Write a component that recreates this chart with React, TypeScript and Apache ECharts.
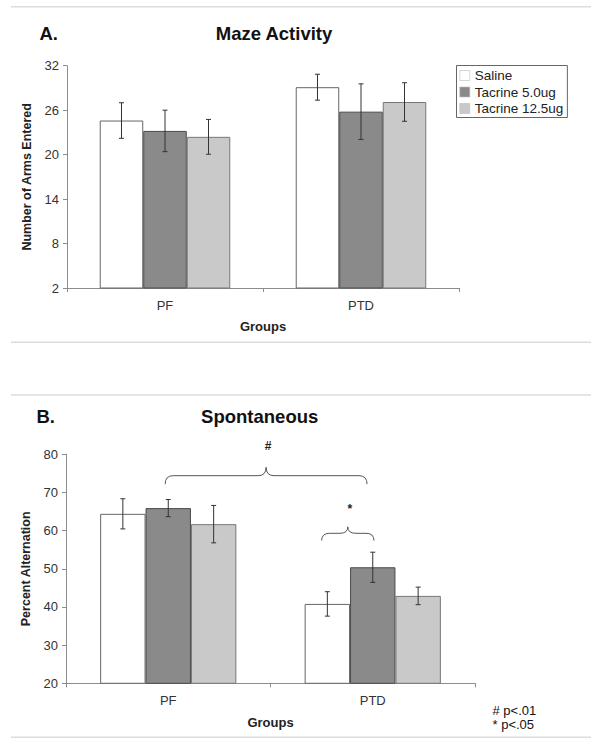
import React, { useEffect, useRef } from "react";
import * as echarts from "echarts";

// ---------- data ----------
const categories = ["PF", "PTD"];
const seriesNames = ["Saline", "Tacrine 5.0ug", "Tacrine 12.5ug"];

// A. Maze Activity (number of arms entered)
const mazeSaline = [24.6, 29.1];
const mazeSalineErr = [2.4, 1.75];
const mazeT5 = [23.2, 25.8];
const mazeT5Err = [2.8, 3.75];
const mazeT12 = [22.4, 27.1];
const mazeT12Err = [2.35, 2.6];
const mazeTicks = [2, 8, 14, 20, 26, 32];

// B. Spontaneous (percent alternation)
const altSaline = [64.4, 40.8];
const altSalineErr = [3.95, 3.2];
const altT5 = [65.9, 50.4];
const altT5Err = [2.25, 3.95];
const altT12 = [61.7, 42.9];
const altT12Err = [4.9, 2.3];

// significance braces on chart B: [category, offset within band]
const braceFrom = [[0, -0.015], [1, -0.25]];
const braceTo = [[1, -0.028], [1, 0.006]];
const braceEndY = [72.2, 57.4];
const braceLineY = [74.4, 59.3];
const bracePeakY = [76.6, 61.0];
const braceMark = ["#", "*"];
const braceMarkY = [82.3, 65.6];

const footnotes = ["# p<.01", "* p<.05"];

// ---------- styles ----------
const FONT = '"Liberation Sans", Arial, Helvetica, sans-serif';
const BAR_FRAC = 0.222;
const fills = ["#ffffff", "#8a8a8a", "#c9c9c9"];
const borders = ["#666666", "#4a4a4a", "#777777"];
const AXIS_COLOR = "#8c8c8c";
const TEXT_COLOR = "#333333";

function errRows(means: number[][], errs: number[][]) {
  const rows: number[][] = [];
  for (let b = 0; b < means.length; b++) {
    for (let c = 0; c < means[b].length; c++) {
      rows.push([c, b, means[b][c] - errs[b][c], means[b][c] + errs[b][c]]);
    }
  }
  return rows;
}

function renderErr(params: any, api: any) {
  const cat = api.value(0);
  const bi = api.value(1);
  const lo = api.coord([cat, api.value(2)]);
  const hi = api.coord([cat, api.value(3)]);
  const band = api.size([1, 0])[0];
  const x = lo[0] + (bi - 1) * band * BAR_FRAC;
  const cap = 2.5;
  const style = { stroke: "#333333", lineWidth: 1 };
  return {
    type: "group",
    children: [
      { type: "line", shape: { x1: x, y1: lo[1], x2: x, y2: hi[1] }, style },
      { type: "line", shape: { x1: x - cap, y1: hi[1], x2: x + cap, y2: hi[1] }, style },
      { type: "line", shape: { x1: x - cap, y1: lo[1], x2: x + cap, y2: lo[1] }, style },
    ],
  };
}

function renderBrace(params: any, api: any) {
  const i = params.dataIndex;
  const band = api.size([1, 0])[0];
  const xL = api.coord([braceFrom[i][0], 50])[0] + braceFrom[i][1] * band;
  const xR = api.coord([braceTo[i][0], 50])[0] + braceTo[i][1] * band;
  const xm = (xL + xR) / 2;
  const yE = api.coord([0, braceEndY[i]])[1];
  const yL = api.coord([0, braceLineY[i]])[1];
  const yP = api.coord([0, bracePeakY[i]])[1];
  const yM = api.coord([0, braceMarkY[i]])[1];
  const r = Math.min(8, (xR - xL) / 6);
  const st = { stroke: "#555555", lineWidth: 1, fill: "none" };
  return {
    type: "group",
    children: [
      { type: "bezierCurve", shape: { x1: xL, y1: yE, cpx1: xL, cpy1: yL, x2: xL + r, y2: yL }, style: st },
      { type: "line", shape: { x1: xL + r, y1: yL, x2: xm - r, y2: yL }, style: st },
      { type: "bezierCurve", shape: { x1: xm - r, y1: yL, cpx1: xm, cpy1: yL, x2: xm, y2: yP }, style: st },
      { type: "bezierCurve", shape: { x1: xm, y1: yP, cpx1: xm, cpy1: yL, x2: xm + r, y2: yL }, style: st },
      { type: "line", shape: { x1: xm + r, y1: yL, x2: xR - r, y2: yL }, style: st },
      { type: "bezierCurve", shape: { x1: xR - r, y1: yL, cpx1: xR, cpy1: yL, x2: xR, y2: yE }, style: st },
      {
        type: "text",
        x: xm + 2,
        y: yM,
        style: {
          text: braceMark[i],
          fontSize: 12,
          fontWeight: "bold",
          fontFamily: FONT,
          fill: "#222222",
          align: "center",
          verticalAlign: "middle",
        },
      },
    ],
  };
}

function barSeries(name: string, idx: number, data: number[], gridIdx: number) {
  return {
    type: "bar",
    name,
    data,
    xAxisIndex: gridIdx,
    yAxisIndex: gridIdx,
    barWidth: "22.2%",
    barGap: "0%",
    itemStyle: { color: fills[idx], borderColor: borders[idx], borderWidth: 1 },
    emphasis: { disabled: true },
  };
}

function catAxis(gridIndex: number, nameGap: number) {
  return {
    type: "category",
    gridIndex,
    data: categories,
    name: "Groups",
    nameLocation: "middle",
    nameGap,
    nameTextStyle: { fontSize: 13, fontWeight: "bold", fontFamily: FONT, color: "#222222" },
    axisLine: { lineStyle: { color: AXIS_COLOR, width: 1 } },
    axisTick: { show: true, length: 4, lineStyle: { color: AXIS_COLOR } },
    axisLabel: { fontSize: 13, fontFamily: FONT, color: TEXT_COLOR, margin: 11 },
    splitLine: { show: false },
  };
}

function textEl(text: string, x: number, y: number, size: number, bold: boolean, align = "left") {
  return {
    type: "text",
    x,
    y,
    style: {
      text,
      fontSize: size,
      fontWeight: bold ? "bold" : "normal",
      fontFamily: FONT,
      fill: "#111111",
      align,
      verticalAlign: "middle",
    },
  };
}

function sepLine(y: number) {
  return {
    type: "line",
    shape: { x1: 11, y1: y, x2: 591, y2: y },
    style: { stroke: "#dddddd", lineWidth: 1.5 },
  };
}

export default function App() {
  const ref = useRef<HTMLDivElement>(null);

  useEffect(() => {
    document.body.style.margin = "0";
    if (!ref.current) return;
    const chart = echarts.init(ref.current, undefined, { renderer: "svg" });

    const option: any = {
      animation: false,
      backgroundColor: "#ffffff",
      textStyle: { fontFamily: FONT },
      legend: {
        data: seriesNames,
        orient: "vertical",
        left: 456.5,
        top: 65.5,
        padding: [3, 4, 2, 3],
        itemGap: 2.5,
        itemWidth: 10,
        itemHeight: 10,
        borderColor: "#666666",
        borderWidth: 1,
        icon: "rect",
        selectedMode: false,
        itemStyle: { borderColor: "#bbbbbb", borderWidth: 0.6 },
        textStyle: { fontSize: 13.5, fontFamily: FONT, color: "#222222" },
      },
      grid: [
        { left: 67, top: 65.7, width: 392, height: 222.3 },
        { left: 66, top: 454.3, width: 409, height: 229 },
      ],
      xAxis: [catAxis(0, 31.5), catAxis(1, 32.5)],
      yAxis: [
        {
          type: "value",
          gridIndex: 0,
          min: 2,
          max: 32,
          name: "Number of Arms Entered",
          nameLocation: "middle",
          nameGap: 32,
          nameTextStyle: { fontSize: 12.5, fontWeight: "bold", fontFamily: FONT, color: "#222222" },
          axisLine: { show: true, lineStyle: { color: AXIS_COLOR, width: 1 } },
          axisTick: { show: true, length: 4, lineStyle: { color: AXIS_COLOR }, customValues: mazeTicks },
          axisLabel: { fontSize: 13, fontFamily: FONT, color: TEXT_COLOR, customValues: mazeTicks },
          splitLine: { show: false },
        },
        {
          type: "value",
          gridIndex: 1,
          min: 20,
          max: 80,
          interval: 10,
          name: "Percent Alternation",
          nameLocation: "middle",
          nameGap: 33,
          nameTextStyle: { fontSize: 12.5, fontWeight: "bold", fontFamily: FONT, color: "#222222" },
          axisLine: { show: true, lineStyle: { color: AXIS_COLOR, width: 1 } },
          axisTick: { show: true, length: 4, lineStyle: { color: AXIS_COLOR } },
          axisLabel: { fontSize: 13, fontFamily: FONT, color: TEXT_COLOR },
          splitLine: { show: false },
        },
      ],
      series: [
        barSeries(seriesNames[0], 0, mazeSaline, 0),
        barSeries(seriesNames[1], 1, mazeT5, 0),
        barSeries(seriesNames[2], 2, mazeT12, 0),
        barSeries(seriesNames[0], 0, altSaline, 1),
        barSeries(seriesNames[1], 1, altT5, 1),
        barSeries(seriesNames[2], 2, altT12, 1),
        {
          type: "custom",
          name: "maze-err",
          xAxisIndex: 0,
          yAxisIndex: 0,
          renderItem: renderErr,
          encode: { x: 0, y: [2, 3] },
          data: errRows([mazeSaline, mazeT5, mazeT12], [mazeSalineErr, mazeT5Err, mazeT12Err]),
          z: 5,
          silent: true,
        },
        {
          type: "custom",
          name: "alt-err",
          xAxisIndex: 1,
          yAxisIndex: 1,
          renderItem: renderErr,
          encode: { x: 0, y: [2, 3] },
          data: errRows([altSaline, altT5, altT12], [altSalineErr, altT5Err, altT12Err]),
          z: 5,
          silent: true,
        },
        {
          type: "custom",
          name: "braces",
          xAxisIndex: 1,
          yAxisIndex: 1,
          renderItem: renderBrace,
          clip: false,
          encode: { x: 0, y: 1 },
          data: braceMark.map((_, i) => [braceFrom[i][0], braceLineY[i]]),
          z: 5,
          silent: true,
        },
      ],
      graphic: [
        sepLine(6.7),
        sepLine(342.3),
        sepLine(395),
        sepLine(737.3),
        textEl("A.", 39.5, 33.5, 18.5, true),
        textEl("Maze Activity", 274, 33.5, 18.5, true, "center"),
        textEl("B.", 36.5, 416, 18.5, true),
        textEl("Spontaneous", 259.7, 416, 18.5, true, "center"),
        textEl(footnotes[0], 492.5, 710, 13, false),
        textEl(footnotes[1], 492.5, 724, 13, false),
      ],
    };

    chart.setOption(option);
    return () => chart.dispose();
  }, []);

  return <div ref={ref} style={{ width: 601, height: 753 }} />;
}
